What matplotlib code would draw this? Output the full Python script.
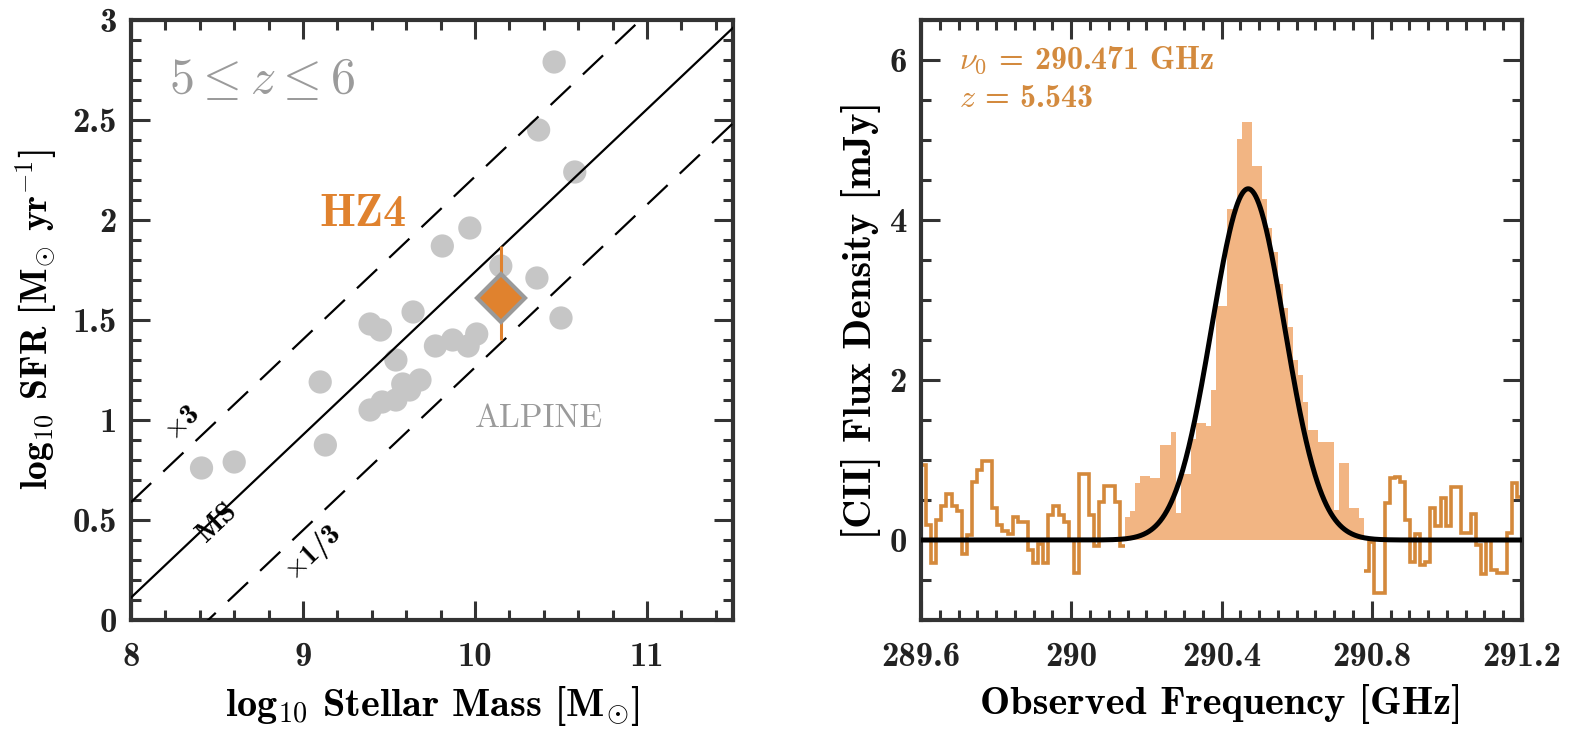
import numpy as np
import matplotlib
matplotlib.use("Agg")
import matplotlib.pyplot as plt
from matplotlib.ticker import MultipleLocator, FuncFormatter

plt.rcParams['mathtext.fontset'] = 'cm'
plt.rcParams['font.family'] = ['cmb10', 'DejaVu Serif']
plt.rcParams['axes.unicode_minus'] = False

# ---------------- Left panel data (ALPINE main sequence) ----------------
alpine_logm = [10.46, 10.37, 10.58, 9.97, 9.81, 10.15, 10.36, 9.64, 9.39, 9.45,
               10.50, 9.77, 9.87, 9.96, 10.01, 9.54, 9.68, 9.58, 9.62, 9.46,
               9.39, 9.54, 9.10, 9.13, 8.41, 8.60]
alpine_logsfr = [2.79, 2.45, 2.24, 1.96, 1.87, 1.77, 1.71, 1.54, 1.48, 1.45,
                 1.51, 1.37, 1.40, 1.37, 1.43, 1.30, 1.20, 1.18, 1.15, 1.09,
                 1.05, 1.10, 1.19, 0.875, 0.76, 0.79]
hz4_logm = 10.15
hz4_logsfr = 1.61
hz4_err_low = 0.21
hz4_err_high = 0.26
ms_slope = 0.814
ms_intercept = -6.40
ms_factor = 3.0

# ---------------- Right panel data ([CII] spectrum) ----------------
chan_start = 289.6
chan_width = 0.01356
flux_mjy = [0.94, 0.19, -0.29, 0.25, 0.43, 0.58, 0.43, 0.36, -0.18, 0.06,
            0.73, 0.88, 0.99, 0.99, 0.40, 0.19, 0.11, 0.07, 0.29, 0.22,
            0.22, -0.12, -0.29, -0.05, -0.29, 0.31, 0.42, 0.31, 0.23, 0.00,
            -0.41, 0.83, 0.83, 0.31, -0.08, 0.48, 0.67, 0.67, 0.48, -0.08,
            0.29, 0.36, 0.71, 0.80, 0.80, 0.77, 0.77, 1.19, 1.19, 1.35,
            0.34, 0.82, 0.82, 1.26, 1.46, 1.46, 1.42, 1.88, 2.93, 2.93,
            4.14, 4.14, 5.01, 5.22, 5.22, 4.68, 4.68, 4.26, 3.90, 3.60,
            3.20, 2.90, 2.66, 2.25, 2.06, 1.73, 1.37, 1.37, 1.23, 1.23,
            1.23, 0.38, 0.96, 0.96, 0.40, 0.40, 0.28, -0.39, -0.03, -0.66,
            -0.66, 0.46, 0.77, 0.79, 0.73, 0.25, -0.27, 0.07, -0.31, -0.27,
            0.40, 0.17, 0.52, 0.17, 0.66, 0.66, 0.09, 0.09, 0.33, -0.06,
            -0.43, 0.00, -0.37, -0.41, -0.41, 0.09, 0.71, 0.54]
line_first_chan = 40
line_last_chan = 86
fit_amp = 4.39
fit_nu0 = 290.471
fit_sigma = 0.097
redshift = 5.543

# ---------------- Styling ----------------
GRAY_PT = '#C6C6C6'
ORANGE = '#E0822E'
ORANGE_TXT = '#D38A3E'
OUTLINE = '#D4893B'
FILL = '#F2B583'
SPINE = '#333333'

fig = plt.figure(figsize=(15.78, 7.31), dpi=100)
axL = fig.add_axes([131/1578, 111/731, 602/1578, 600/731])
axR = fig.add_axes([921/1578, 111/731, 601/1578, 600/731])

def style(ax):
    for s in ax.spines.values():
        s.set_linewidth(3)
        s.set_color(SPINE)
    ax.tick_params(which='both', direction='in', top=True, right=True,
                   color=SPINE, width=2.2, labelsize=25, labelcolor='#222222')
    ax.tick_params(axis='x', pad=16)
    ax.tick_params(axis='y', pad=10)
    ax.tick_params(which='major', length=14)
    ax.tick_params(which='minor', length=7)

fmt = FuncFormatter(lambda v, p: '%g' % round(v, 3))

# ---- Left panel ----
ax = axL
ax.scatter(alpine_logm, alpine_logsfr, s=280, color=GRAY_PT, edgecolors='none', zorder=2)
xl = np.array([8.0, 11.5])
ms = ms_slope * xl + ms_intercept
ax.plot(xl, ms, color='black', lw=1.6, zorder=3)
ax.plot(xl, ms + np.log10(ms_factor), color='black', lw=1.6, ls=(0, (12.5, 7.5)), zorder=3)
ax.plot(xl, ms - np.log10(ms_factor), color='black', lw=1.6, ls=(0, (12.5, 7.5)), zorder=3)
ax.errorbar([hz4_logm], [hz4_logsfr], yerr=[[hz4_err_low], [hz4_err_high]],
            fmt='none', ecolor=ORANGE, elinewidth=2.2, capsize=0, zorder=4)
ax.plot([hz4_logm], [hz4_logsfr], marker='D', markersize=24, color=ORANGE,
        markeredgecolor='#9A9A9A', markeredgewidth=3, zorder=5)
ax.set_xlim(8, 11.5)
ax.set_ylim(0, 3)
ax.xaxis.set_major_locator(MultipleLocator(1))
ax.xaxis.set_minor_locator(MultipleLocator(0.2))
ax.yaxis.set_major_locator(MultipleLocator(0.5))
ax.yaxis.set_minor_locator(MultipleLocator(0.1))
ax.xaxis.set_major_formatter(fmt)
ax.yaxis.set_major_formatter(fmt)
style(ax)
ax.set_xticks([8, 9, 10, 11])
ax.set_xlabel(r'log$_{\mathbf{10}}$ Stellar Mass [M$_{\odot}$]', fontsize=29, labelpad=8)
ax.set_ylabel(r'log$_{\mathbf{10}}$ SFR [M$_{\odot}$ yr$^{-\mathbf{1}}$]', fontsize=27, labelpad=10)

ang = 43.4
ax.text(8.30, 0.985, r'$\times$3', fontsize=21, rotation=ang, ha='center', va='center',
        rotation_mode='anchor')
ax.text(8.50, 0.485, 'MS', fontsize=21, rotation=ang, ha='center', va='center',
        rotation_mode='anchor')
ax.text(9.06, 0.335, r'$\times$1/3', fontsize=21, rotation=ang, ha='center', va='center',
        rotation_mode='anchor')
ax.text(8.76, 2.70, r'$5 \leq z \leq 6$', fontsize=36, color='#9B9B9B', ha='center', va='center')
ax.text(9.35, 2.03, 'HZ4', fontsize=33, color=ORANGE, ha='center', va='center')
ax.text(10.37, 1.01, 'ALPINE', fontsize=24, color='#9B9B9B', ha='center', va='center',
        family=['cmr10', 'DejaVu Serif'])

# ---- Right panel ----
ax = axR
edges = chan_start + chan_width * np.arange(len(flux_mjy) + 1)
vals = np.array(flux_mjy)
a, b = line_first_chan, line_last_chan
ax.stairs(vals[:a], edges[:a + 1], color=OUTLINE, lw=2.6, baseline=None, zorder=2)
ax.stairs(vals[b + 1:], edges[b + 1:], color=OUTLINE, lw=2.6, baseline=None, zorder=2)
ax.stairs(vals[a:b + 1], edges[a:b + 2], fill=True, color=FILL, baseline=0, zorder=2)
nu = np.linspace(289.6, 291.2, 800)
ax.plot(nu, fit_amp * np.exp(-0.5 * ((nu - fit_nu0) / fit_sigma) ** 2),
        color='black', lw=3.6, zorder=3)
ax.set_xlim(289.6, 291.2)
ax.set_ylim(-1, 6.5)
ax.xaxis.set_major_locator(MultipleLocator(0.4))
ax.xaxis.set_minor_locator(MultipleLocator(0.05))
ax.yaxis.set_major_locator(MultipleLocator(2))
ax.yaxis.set_minor_locator(MultipleLocator(0.5))
ax.xaxis.set_major_formatter(fmt)
ax.yaxis.set_major_formatter(fmt)
style(ax)
ax.set_xlabel('Observed Frequency [GHz]', fontsize=29, labelpad=8)
ax.set_ylabel('[CII] Flux Density [mJy]', fontsize=29, labelpad=6)
ax.text(289.70, 6.0, r'$\nu_0$ = %.3f GHz' % fit_nu0, fontsize=23, color=ORANGE_TXT,
        ha='left', va='center')
ax.text(289.70, 5.52, r'$z$ = %.3f' % redshift, fontsize=23, color=ORANGE_TXT,
        ha='left', va='center')

fig.savefig('out.png', dpi=100)
